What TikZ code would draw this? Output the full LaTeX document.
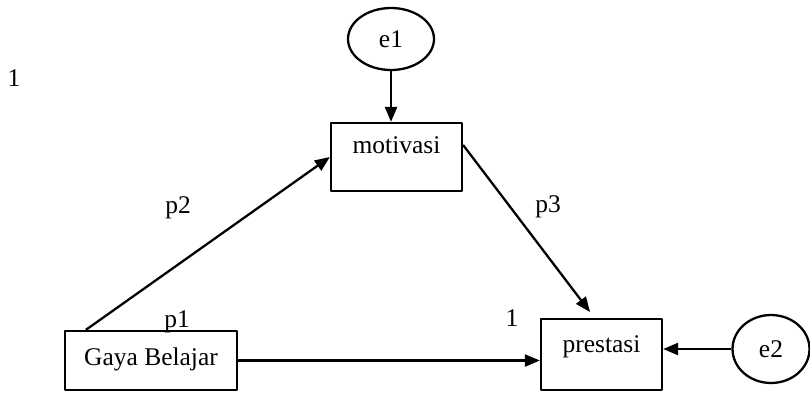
\documentclass[tikz,border=0pt]{standalone}
\usepackage{fontspec}
\setmainfont{Liberation Serif}
\usetikzlibrary{arrows.meta,shapes.geometric}
\begin{document}
\begin{tikzpicture}[x=0.02cm,y=-0.02cm,>={Triangle[length=0.3cm,width=0.24cm]},line join=round,
	font=\fontsize{14.5pt}{16pt}\selectfont,line width=1.3pt,
	var/.style={draw,rectangle,inner sep=0pt,align=center},
	err/.style={draw,ellipse,inner sep=0pt}]
		\useasboundingbox (0,0) rectangle (810,392);
		\node[err,minimum width=1.72cm,minimum height=1.24cm] (e1) at (391,39) {e1};
		\node[var,minimum width=2.62cm,text height=0.61cm,text depth=0.75cm] (mot) at (396.5,157) {motivasi};
		\node[var,minimum width=3.44cm,text height=0.68cm,text depth=0.5cm] (gaya) at (151,360.5) {Gaya Belajar};
		\node[var,minimum width=2.42cm,text height=0.66cm,text depth=0.76cm] (pres) at (601.5,354.5) {prestasi};
		\node[err,minimum width=1.54cm,minimum height=1.36cm] (e2) at (771,349) {e2};
		\coordinate (pin) at (590,312);
		\draw[->] (e1)--(e1 |- mot.north);
		\draw[->] ([xshift=0.44cm]gaya.north west)--(mot.west);
		\draw[->] ([yshift=0.24cm]mot.east)--(pin);
		\draw[->] (gaya.east)--(gaya.east -| pres.west);
		\draw[->] (e2.west)--(e2.west -| pres.east);
		\foreach \n/\t/\p in {one/1/{14,78},pa/p1/{177,322},pb/p2/{178,208},pc/p3/{548,207},two/1/{512,318}}{
			\node (\n) at (\p) {\t};
			}
		\end{tikzpicture}
\end{document}
